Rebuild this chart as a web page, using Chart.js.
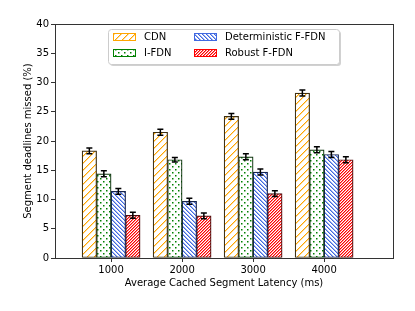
<!DOCTYPE html>
<html>
<head>
<meta charset="utf-8">
<script src="https://cdn.jsdelivr.net/npm/chart.js@4"></script>
<style>
  body { margin: 0; background: #fff; }
  #wrap { width: 415px; height: 311px; }
</style>
</head>
<body>
<div id="wrap"><canvas id="chart" width="415" height="311"></canvas></div>
<script>
const latencies = ['1000', '2000', '3000', '4000'];
const xPos = [0, 1, 2, 3];
const seriesNames = ['CDN', 'I-FDN', 'Deterministic F-FDN', 'Robust F-FDN'];
const cdn = [18.3, 21.5, 24.2, 28.2];
const ifdn = [14.4, 16.8, 17.3, 18.5];
const detFfdn = [11.4, 9.7, 14.7, 17.7];
const robFfdn = [7.3, 7.2, 11.0, 16.8];
const cdnErr = [0.5, 0.5, 0.5, 0.5];
const ifdnErr = [0.5, 0.4, 0.5, 0.5];
const detErr = [0.5, 0.5, 0.5, 0.5];
const robErr = [0.5, 0.5, 0.5, 0.5];
const yTicks = [0, 5, 10, 15, 20, 25, 30, 35, 40];

const FONT = 'DejaVu Sans';

// crisp pixel hatch: rgb = [r,g,b], weights = alpha per offset along the diagonal
function hatch(rgb, gap, dir, weights) {
    const c = document.createElement('canvas');
    c.width = gap; c.height = gap;
    const g = c.getContext('2d');
    const img = g.createImageData(gap, gap);
    for (let y = 0; y < gap; y++) {
        for (let x = 0; x < gap; x++) {
            const d = dir === '/' ? (x + y) % gap : ((x - y) % gap + gap) % gap;
            const a = weights[d] || 0;
            const p = (y * gap + x) * 4;
            img.data[p] = Math.round(255 + (rgb[0] - 255) * a);
            img.data[p + 1] = Math.round(255 + (rgb[1] - 255) * a);
            img.data[p + 2] = Math.round(255 + (rgb[2] - 255) * a);
            img.data[p + 3] = 255;
        }
    }
    g.putImageData(img, 0, 0);
    return g.createPattern(c, 'repeat');
}

function dots(color) {
    const c = document.createElement('canvas');
    c.width = 6; c.height = 6;
    const g = c.getContext('2d');
    g.fillStyle = '#fff';
    g.fillRect(0, 0, 6, 6);
    g.fillStyle = color;
    g.fillRect(1, 1, 1.5, 1.5);
    g.fillRect(4, 4, 1.5, 1.5);
    return g.createPattern(c, 'repeat');
}

const colors = ['#ffa500', '#008000', '#4169e1', '#ff0000'];
const edges = ['#3d2f12', '#0b330b', '#17244d', '#4d0d0d'];
const fills = [
    hatch([255, 165, 0], 7, '/', [1, 0.4]),
    dots(colors[1]),
    hatch([65, 105, 225], 4, '\\', [1, 0.5]),
    hatch([255, 0, 0], 3, '/', [1, 0.5])
];
const values = [cdn, ifdn, detFfdn, robFfdn];
const errs = [cdnErr, ifdnErr, detErr, robErr];

const datasets = seriesNames.map((name, i) => ({
    label: name,
    data: xPos.map((x, j) => ({ x: x, y: values[i][j] })),
    backgroundColor: fills[i],
    borderColor: edges[i],
    borderWidth: 1.2,
    borderSkipped: false,
    barThickness: 14.5
}));

const decor = {
    id: 'decor',
    afterDatasetsDraw(chart) {
        const ctx = chart.ctx;
        const ys = chart.scales.y;
        ctx.save();
        ctx.strokeStyle = '#000';
        ctx.lineWidth = 1.5;
        chart.data.datasets.forEach((ds, i) => {
            const meta = chart.getDatasetMeta(i);
            meta.data.forEach((bar, j) => {
                const v = values[i][j], e = errs[i][j];
                const y1 = ys.getPixelForValue(v - e), y2 = ys.getPixelForValue(v + e);
                ctx.beginPath();
                ctx.moveTo(bar.x, y1); ctx.lineTo(bar.x, y2);
                ctx.moveTo(bar.x - 3, y1); ctx.lineTo(bar.x + 3, y1);
                ctx.moveTo(bar.x - 3, y2); ctx.lineTo(bar.x + 3, y2);
                ctx.stroke();
            });
        });
        // frame
        const a = chart.chartArea;
        ctx.strokeStyle = '#333';
        ctx.lineWidth = 1;
        ctx.strokeRect(Math.round(a.left) + 0.5, Math.round(a.top) + 0.5,
            Math.round(a.right - a.left), Math.round(a.bottom - a.top));

        // legend
        const lx = 108, ly = 29, lw = 231, lh = 35;
        ctx.fillStyle = 'rgba(0,0,0,0.18)';
        ctx.beginPath();
        ctx.roundRect(lx + 2, ly + 2, lw, lh, 3);
        ctx.fill();
        ctx.fillStyle = '#fff';
        ctx.strokeStyle = '#ccc';
        ctx.beginPath();
        ctx.roundRect(lx + 0.5, ly + 0.5, lw, lh, 3);
        ctx.fill();
        ctx.stroke();
        const cols = [113, 194];
        const rows = [37, 53];
        ctx.font = '10px ' + FONT;
        ctx.textBaseline = 'middle';
        seriesNames.forEach((name, i) => {
            const px = cols[Math.floor(i / 2)];
            const py = rows[i % 2];
            ctx.fillStyle = fills[i];
            ctx.fillRect(px, py - 4, 23, 8);
            ctx.strokeStyle = colors[i];
            ctx.lineWidth = 1;
            ctx.strokeRect(px + 0.5, py - 3.5, 22, 7);
            ctx.fillStyle = '#000';
            ctx.fillText(name, px + 31, py + 0.5);
        });
        ctx.restore();
    }
};

new Chart(document.getElementById('chart'), {
    type: 'bar',
    data: { datasets: datasets },
    options: {
        responsive: false,
        animation: false,
        layout: { padding: { left: 0, top: 24, right: 22, bottom: 0 } },
        plugins: { legend: { display: false }, tooltip: { enabled: false } },
        scales: {
            x: {
                type: 'linear',
                min: -0.79,
                max: 3.97,
                offset: false,
                grid: { display: true, offset: false, drawOnChartArea: false, tickLength: 4, color: '#333' },
                border: { display: false },
                afterBuildTicks: axis => { axis.ticks = xPos.map(v => ({ value: v })); },
                ticks: {
                    callback: (v) => latencies[v],
                    color: '#000',
                    font: { family: FONT, size: 10 },
                    padding: 2,
                    maxRotation: 0
                },
                title: {
                    display: true,
                    text: 'Average Cached Segment Latency (ms)',
                    color: '#000',
                    font: { family: FONT, size: 10 },
                    padding: { top: 0, bottom: 22 }
                },
                afterFit: s => { s.height = 53; }
            },
            y: {
                min: 0,
                max: 40,
                afterBuildTicks: axis => { axis.ticks = yTicks.map(v => ({ value: v })); },
                grid: { display: true, drawOnChartArea: false, tickLength: 4, color: '#333' },
                border: { display: false },
                ticks: {
                    color: '#000',
                    font: { family: FONT, size: 10 },
                    padding: 2
                },
                title: {
                    display: true,
                    text: 'Segment deadlines missed (%)',
                    color: '#000',
                    font: { family: FONT, size: 10 },
                    padding: { top: 22, bottom: 0 }
                },
                afterFit: s => { s.width = 55; }
            }
        }
    },
    plugins: [decor]
});
</script>
</body>
</html>
